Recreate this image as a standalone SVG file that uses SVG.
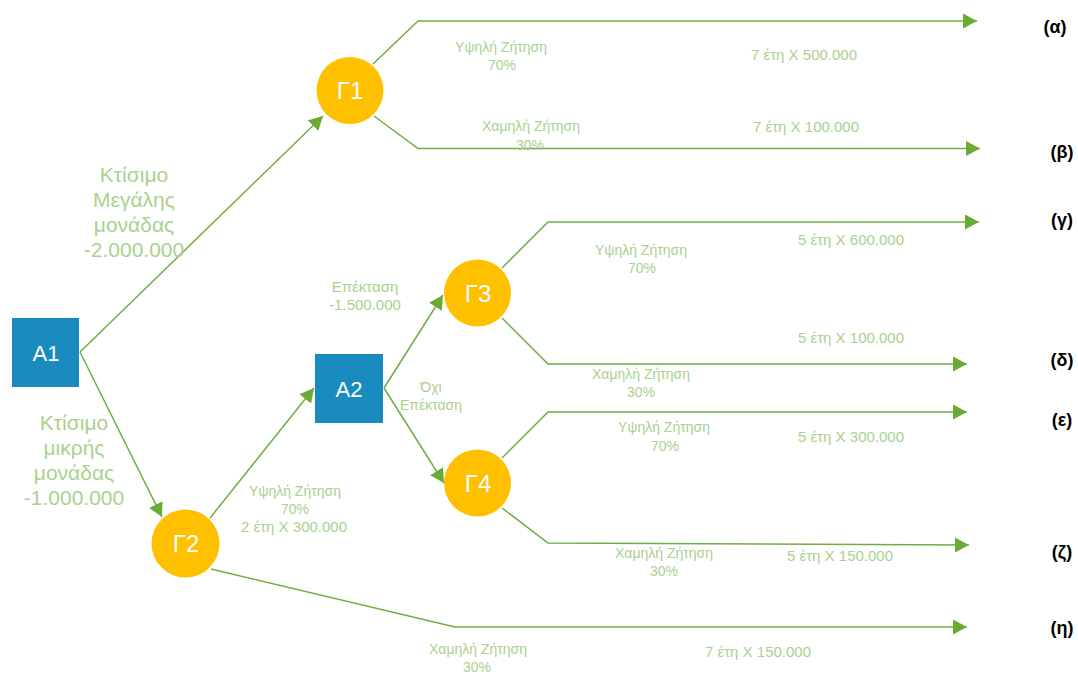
<svg xmlns="http://www.w3.org/2000/svg" width="1078" height="675" viewBox="0 0 1078 675">
<defs>
<marker id="ah" markerUnits="userSpaceOnUse" markerWidth="15" markerHeight="16" refX="14" refY="7.5" orient="auto">
<path d="M0,0 L14,7.5 L0,15 z" fill="#6AAB34"/>
</marker>
<style>
.ln{fill:none;stroke:#70AD47;stroke-width:1.5}
.ar{marker-end:url(#ah)}
.sq{fill:#1A8BBE}
.ci{fill:#FFC000}
.nt{font-family:"Liberation Sans",Arial,sans-serif;fill:#FFFFFF;text-anchor:middle}
.gl{font-family:"Liberation Sans",Arial,sans-serif;fill:#A9D18E;text-anchor:middle;font-size:14px}
.gv{font-family:"Liberation Sans",Arial,sans-serif;fill:#A9D18E;text-anchor:middle;font-size:15px}
.gb{font-family:"Liberation Sans",Arial,sans-serif;fill:#A9D18E;text-anchor:middle;font-size:21px}
.bl{font-family:"Liberation Sans",Arial,sans-serif;fill:#000000;text-anchor:middle;font-size:18px;font-weight:bold}
</style>
</defs>
<rect width="1078" height="675" fill="#FFFFFF"/>
<g id="connectors">
<line class="ln ar" x1="80" y1="352" x2="323" y2="116"/>
<line class="ln ar" x1="80" y1="352" x2="162" y2="517"/>
<line class="ln ar" x1="210" y1="518" x2="314" y2="388"/>
<line class="ln ar" x1="384" y1="388" x2="443" y2="295"/>
<line class="ln ar" x1="384" y1="388" x2="444" y2="483"/>
<polyline class="ln ar" points="373,64 418,21 977,21"/>
<polyline class="ln ar" points="374,116 418,148.5 980,148.5"/>
<polyline class="ln ar" points="502,268 548,222 979,222"/>
<polyline class="ln ar" points="502,318 548,364 967,364"/>
<polyline class="ln ar" points="502,458 548,412 967,412"/>
<polyline class="ln ar" points="502,508 548,543 969,545"/>
<polyline class="ln ar" points="211,569 455,627 967,627"/>
</g>
<g id="A1"><rect class="sq" x="12" y="318" width="67" height="69"/><text class="nt" x="46" y="361" font-size="22">A1</text></g>
<g id="A2"><rect class="sq" x="315" y="354" width="68" height="69"/><text class="nt" x="349" y="397" font-size="22">A2</text></g>
<g id="G1"><circle class="ci" cx="350" cy="90.5" r="33.5"/><text class="nt" x="350" y="99" font-size="24">Γ1</text></g>
<g id="G2"><circle class="ci" cx="185.5" cy="543.5" r="34"/><text class="nt" x="186" y="552" font-size="24">Γ2</text></g>
<g id="G3"><circle class="ci" cx="477.5" cy="293" r="33.5"/><text class="nt" x="478" y="302" font-size="24">Γ3</text></g>
<g id="G4"><circle class="ci" cx="477.5" cy="483" r="33.5"/><text class="nt" x="478" y="492" font-size="24">Γ4</text></g>
<g id="labels">
<text class="gb" x="134" y="182">Κτίσιμο</text>
<text class="gb" x="134" y="207">Μεγάλης</text>
<text class="gb" x="134" y="232">μονάδας</text>
<text class="gb" x="134" y="257">-2.000.000</text>
<text class="gb" x="74" y="430">Κτίσιμο</text>
<text class="gb" x="74" y="455">μικρής</text>
<text class="gb" x="74" y="480">μονάδας</text>
<text class="gb" x="74" y="505">-1.000.000</text>
<text class="gv" x="365" y="292">Επέκταση</text>
<text class="gv" x="365" y="310">-1.500.000</text>
<text class="gl" x="431" y="392">Όχι</text>
<text class="gl" x="431" y="410">Επέκταση</text>
<text class="gl" x="501" y="52">Υψηλή Ζήτηση</text>
<text class="gl" x="502" y="70">70%</text>
<text class="gl" x="531" y="131">Χαμηλή Ζήτηση</text>
<text class="gl" x="530" y="150">30%</text>
<text class="gv" x="804" y="60">7 έτη X 500.000</text>
<text class="gv" x="806" y="132">7 έτη X 100.000</text>
<text class="gl" x="641" y="255">Υψηλή Ζήτηση</text>
<text class="gl" x="642" y="273">70%</text>
<text class="gv" x="851" y="245">5 έτη X 600.000</text>
<text class="gv" x="851" y="343">5 έτη X 100.000</text>
<text class="gl" x="641" y="379">Χαμηλή Ζήτηση</text>
<text class="gl" x="641" y="397">30%</text>
<text class="gl" x="664" y="432">Υψηλή Ζήτηση</text>
<text class="gl" x="665" y="451">70%</text>
<text class="gv" x="851" y="442">5 έτη X 300.000</text>
<text class="gl" x="664" y="558">Χαμηλή Ζήτηση</text>
<text class="gl" x="664" y="576">30%</text>
<text class="gv" x="840" y="561">5 έτη X 150.000</text>
<text class="gl" x="295" y="496">Υψηλή Ζήτηση</text>
<text class="gl" x="295" y="514">70%</text>
<text class="gv" x="294" y="532">2 έτη X 300.000</text>
<text class="gl" x="478" y="654">Χαμηλή Ζήτηση</text>
<text class="gl" x="477" y="672">30%</text>
<text class="gv" x="758" y="657">7 έτη X 150.000</text>
<text class="bl" x="1055" y="33">(α)</text>
<text class="bl" x="1062" y="158">(β)</text>
<text class="bl" x="1062" y="226">(γ)</text>
<text class="bl" x="1062" y="366">(δ)</text>
<text class="bl" x="1062" y="426">(ε)</text>
<text class="bl" x="1062" y="558">(ζ)</text>
<text class="bl" x="1062" y="634">(η)</text>
</g>
</svg>
